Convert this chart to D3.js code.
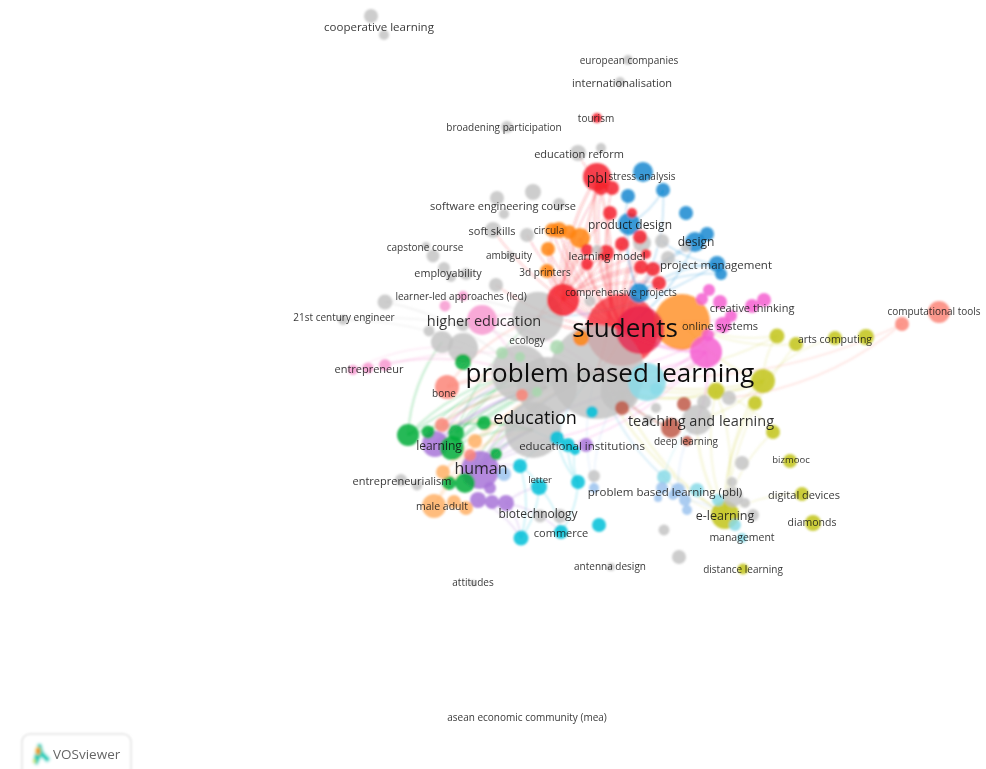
<!DOCTYPE html>
<html>
<head>
<meta charset="utf-8">
<script src="https://cdn.jsdelivr.net/npm/d3@7"></script>
<style>
html, body { margin: 0; padding: 0; background: #fff; overflow: hidden; }
svg { display: block; }
text { font-family: "Open Sans", sans-serif; }
</style>
</head>
<body>
<script>
var width = 986;
var height = 769;

// keyword nodes per cluster: [map x, map y, occurrence weight]
var gray = [
  [597,372,2209],[520,373,800],[547,387,900],[620,392,380],[533,430,780],[538,317,640],[697,420,225],
  [463,348,225],[442,342,121],[429,331,30],[463,325,36],[371,16,49],[384,35,25],[628,60,25],[620,82,25],
  [507,127,36],[578,153,64],[601,148,25],[533,192,64],[497,198,49],[504,214,25],[559,204,36],[493,230,64],
  [527,235,49],[426,246,16],[433,256,42],[510,255,16],[444,268,36],[451,277,25],[466,274,36],[496,285,49],
  [385,302,56],[343,320,25],[662,241,49],[642,243,81],[668,258,49],[686,247,25],[590,301,30],[597,250,25],
  [729,398,49],[704,402,49],[656,408,25],[648,420,25],[742,463,49],[732,482,25],[733,497,100],[745,503,25],
  [753,515,36],[664,530,30],[679,557,49],[611,567,16],[594,476,36],[473,583,9],[401,480,36],[417,485,30],
  [540,516,42],[560,516,49]
];
var red = [
  [622,330,1296],[563,300,256],[597,177,196],[601,188,49],[612,188,49],[610,213,49],[632,213,25],[622,244,49],
  [606,253,64],[587,250,36],[587,264,36],[646,254,25],[641,267,49],[653,269,49],[659,283,49],[597,118,25],
  [640,237,49]
];
var crimson = [[640,330,576]];
var blue = [
  [643,172,100],[663,190,49],[628,196,49],[686,213,49],[629,224,121],[695,242,100],[707,234,49],[717,264,64],
  [721,274,36],[639,293,100]
];
var orange = [
  [682,322,784],[552,230,49],[559,230,64],[569,232,49],[580,238,100],[548,249,49],[547,271,49],[581,338,64]
];
var green = [
  [408,435,121],[428,432,42],[456,433,64],[452,448,144],[463,362,64],[484,423,49],[496,454,36],[449,483,49],
  [465,483,100]
];
var paleGreen = [[557,347,49],[502,353,36],[520,357,25],[537,392,25]];
var purple = [
  [435,444,169],[480,470,361],[490,488,36],[478,500,64],[492,502,49],[506,503,64],[586,445,49]
];
var cyan = [
  [520,466,49],[539,487,64],[578,482,49],[521,538,56],[561,532,49],[599,525,49],[557,438,49],[568,445,49],
  [575,450,25],[592,412,36]
];
var paleCyan = [
  [647,382,361],[664,477,49],[697,490,49],[718,500,36],[735,525,36],[742,538,25],[656,389,36]
];
var lightBlue = [
  [662,488,36],[658,498,16],[678,490,49],[685,500,36],[687,510,25],[673,495,25],[594,488,25],[504,474,49]
];
var pink = [
  [482,320,225],[445,306,30],[463,296,25],[353,370,25],[368,368,30],[385,365,36]
];
var magenta = [
  [706,352,256],[702,299,36],[752,306,49],[764,300,49],[723,325,64],[731,316,36],[708,335,36],[709,290,36],
  [720,302,49]
];
var yellow = [
  [725,515,196],[763,381,144],[716,391,72],[755,403,49],[773,432,49],[790,461,49],[802,494,49],[813,523,64],
  [743,569,30],[777,336,56],[796,344,49],[835,338,49],[866,337,64]
];
var salmon = [[447,387,144],[442,425,49],[470,455,36],[522,395,36],[902,324,49],[939,312,121]];
var brown = [[684,404,49],[622,408,49],[671,428,100],[687,441,25]];
var peach = [[434,506,144],[454,502,49],[466,508,49],[443,472,49],[475,441,49]];

var clusterNames = ["gray","red","crimson","blue","orange","green","paleGreen","purple","cyan","paleCyan","lightBlue","pink","magenta","yellow","salmon","brown","peach"];
var clusterRows = [gray,red,crimson,blue,orange,green,paleGreen,purple,cyan,paleCyan,lightBlue,pink,magenta,yellow,salmon,brown,peach];
var clusterColors = ["#c2c2c2","#f5222d","#e81f4a","#1488d0","#ff8412","#00ad3a","#a8d8ae","#a874d8","#00bfd8","#8adbe8","#9cc3ee","#f79ad0","#f45fd0","#c2c41a","#fb8578","#c05a48","#ffb066"];

// link fans: source cluster, source index, target cluster, target indexes
var linkFans = [
  ["red",0,"red",[1,2,3,4,5,6,7,8,9,10,11,12,13,14,16]],
  ["red",1,"red",[2,3,5,7,8,9,10,11,12,13,14]],
  ["red",2,"gray",[0,5,16]],
  ["red",0,"orange",[1,2,3,4,5,6]],
  ["red",1,"orange",[1,3,4,5,6]],
  ["red",0,"gray",[0,5,22,23,30,34,35]],
  ["red",8,"gray",[0,5]],
  ["blue",9,"blue",[2,4,5,7,8]],
  ["blue",1,"blue",[4,9]],
  ["blue",7,"gray",[5,33,35]],
  ["blue",5,"red",[0,12]],
  ["green",3,"gray",[0,1,2,4]],
  ["green",0,"gray",[0,1,4,8]],
  ["green",2,"gray",[0,1,2,5]],
  ["green",1,"gray",[1,2,4]],
  ["green",8,"gray",[0,2,4]],
  ["salmon",0,"gray",[0,2,5]],
  ["salmon",1,"gray",[0,1,2,4]],
  ["purple",1,"gray",[0,2,3,4]],
  ["purple",0,"gray",[0,1,2]],
  ["purple",1,"cyan",[6,7,0]],
  ["purple",5,"cyan",[3,4,1]],
  ["purple",3,"cyan",[3]],
  ["peach",0,"gray",[0,2]],
  ["peach",3,"gray",[0,4]],
  ["pink",3,"gray",[1,7]],
  ["pink",5,"gray",[1,0]],
  ["pink",0,"gray",[0,1,5]],
  ["gray",32,"gray",[0,1]],
  ["gray",31,"gray",[5,1]],
  ["magenta",0,"gray",[0,3,6]],
  ["magenta",0,"red",[0,1]],
  ["magenta",0,"cyan",[6,7]],
  ["magenta",2,"orange",[0]],
  ["magenta",4,"gray",[0,3]],
  ["yellow",1,"gray",[0,3,6]],
  ["yellow",1,"yellow",[2,9,11,3]],
  ["yellow",1,"orange",[0]],
  ["yellow",2,"gray",[0,3]],
  ["yellow",2,"yellow",[0,4]],
  ["yellow",0,"yellow",[1,2,3,4,6,10]],
  ["yellow",0,"gray",[0,6,3]],
  ["yellow",0,"paleCyan",[1]],
  ["yellow",9,"orange",[0]],
  ["yellow",10,"orange",[0]],
  ["yellow",9,"gray",[0]],
  ["salmon",4,"gray",[39,0]],
  ["brown",2,"gray",[0,3]],
  ["cyan",0,"cyan",[1,3,6]],
  ["cyan",1,"cyan",[3,4]],
  ["cyan",2,"cyan",[6,7,8,4]],
  ["cyan",6,"gray",[0,4]],
  ["paleCyan",1,"gray",[0,6]],
  ["lightBlue",2,"gray",[0,6]],
  ["lightBlue",3,"yellow",[0]],
  ["lightBlue",6,"gray",[0,3]]
];

// labels: text, map x, map y, font size
var labelText = ["problem based learning","students","education","higher education","teaching and learning","human","learning","pbl","product design","design","e-learning","project management","problem based learning (pbl)","educational institutions","biotechnology","online systems","arts computing","creative thinking","computational tools","learning model","soft skills","software engineering course","education reform","cooperative learning","european companies","internationalisation","tourism","broadening participation","stress analysis","circula","capstone course","ambiguity","employability","3d printers","comprehensive projects","learner-led approaches (led)","21st century engineer","ecology","entrepreneur","bone","entrepreneurialism","male adult","letter","commerce","deep learning","bizmooc","digital devices","diamonds","management","distance learning","antenna design","attitudes","asean economic community (mea)"];
var labelX = [610,625,535,484,701,481,439,597,630,696,725,716,665,582,538,720,835,752,934,607,492,503,579,379,629,622,596,504,642,549,425,509,448,545,621,461,344,527,369,444,402,442,540,561,686,791,804,812,742,743,610,473,527];
var labelY = [372,327,417,320,420,468,445,177,224,241,515,264,491,445,513,325,339,307,311,255,230,205,153,26,60,82,118,127,176,230,247,255,272,272,292,296,317,340,368,393,480,506,479,532,441,459,494,522,537,569,566,582,717];
var labelSize = [26,26,18,14.5,14.5,16,12,14,12,12,12.5,11.5,11.5,11.5,12,11,10.5,11,10,11,11,11,11,11.5,10,11,10,10,10,10,10,10,10.8,10,10,10,10,10,11,10,11,10.5,9.5,11,10,9.5,11,10.5,10.5,10,10,10,10];
var labelColor = "#111111";

var xScale = d3.scaleLinear().domain([0, 986]).range([0, width]);
var yScale = d3.scaleLinear().domain([0, 769]).range([0, height]);
var rScale = d3.scaleSqrt().domain([0, 2500]).range([0, 50]);
var color = d3.scaleOrdinal().domain(clusterNames).range(clusterColors);

var nodes = [];
var lookup = {};
clusterNames.forEach(function(name, c) {
  clusterRows[c].forEach(function(row, i) {
    var n = {cluster: name, x: row[0], y: row[1], w: row[2]};
    nodes.push(n);
    lookup[name + ":" + i] = n;
  });
});

var links = [];
linkFans.forEach(function(f) {
  f[3].forEach(function(t) {
    links.push({a: lookup[f[0] + ":" + f[1]], b: lookup[f[2] + ":" + t]});
  });
});

var svg = d3.select("body").append("svg")
  .attr("width", width)
  .attr("height", height);

var defs = svg.append("defs");
defs.append("filter").attr("id", "soft")
  .attr("x", "-5%").attr("y", "-5%").attr("width", "110%").attr("height", "110%")
  .append("feGaussianBlur").attr("stdDeviation", 0.8);
defs.append("filter").attr("id", "softText")
  .attr("x", "-5%").attr("y", "-5%").attr("width", "110%").attr("height", "110%")
  .append("feGaussianBlur").attr("stdDeviation", 0.4);
defs.append("filter").attr("id", "softer")
  .append("feGaussianBlur").attr("stdDeviation", 0.9);

var map = svg.append("g").attr("filter", "url(#soft)");

map.append("g").selectAll("path")
  .data(links)
  .enter()
  .append("path")
  .attr("fill", "none")
  .attr("stroke", function(d) { return color(d.a.cluster); })
  .attr("stroke-opacity", function(d) { return d.a.cluster === "yellow" ? 0.13 : 0.2; })
  .attr("stroke-width", function(d) { return Math.min(3, 0.8 + Math.sqrt(Math.min(d.a.w, d.b.w)) / 7); })
  .attr("d", function(d) {
    var x0 = xScale(d.a.x), y0 = yScale(d.a.y), x1 = xScale(d.b.x), y1 = yScale(d.b.y);
    // bend each link sideways like the arcs of the map
    var mx = (x0 + x1) / 2 + (y1 - y0) * 0.15;
    var my = (y0 + y1) / 2 - (x1 - x0) * 0.15;
    return "M" + x0 + "," + y0 + "Q" + mx + "," + my + " " + x1 + "," + y1;
  });

// students goes under the big grey nodes, the rest big to small
var first = lookup["red:0"];
var ordered = nodes.filter(function(n) { return n !== first; })
  .sort(function(p, q) { return q.w - p.w; });
ordered.unshift(first);

map.append("g").selectAll("circle")
  .data(ordered)
  .enter()
  .append("circle")
  .attr("cx", function(d) { return xScale(d.x); })
  .attr("cy", function(d) { return yScale(d.y); })
  .attr("r", function(d) { return rScale(d.w); })
  .style("fill", function(d) { return color(d.cluster); })
  .style("fill-opacity", function(d) {
    if (d.cluster === "gray") return 0.82;
    return d.w > 500 ? 0.75 : 0.85;
  });

svg.append("g").attr("filter", "url(#softText)").selectAll("text")
  .data(labelText)
  .enter()
  .append("text")
  .attr("x", function(d, i) { return xScale(labelX[i]); })
  .attr("y", function(d, i) { return yScale(labelY[i]); })
  .attr("text-anchor", "middle")
  .attr("dominant-baseline", "central")
  .attr("font-size", function(d, i) { return labelSize[i]; })
  .attr("fill", labelColor)
  .attr("fill-opacity", function(d, i) { return labelSize[i] > 17 ? 1 : 0.85; })
  .text(function(d) { return d; });

// VOSviewer badge
var badge = svg.append("g").attr("filter", "url(#soft)");
badge.append("rect")
  .attr("x", 22).attr("y", 734).attr("width", 109).attr("height", 50).attr("rx", 8)
  .attr("fill", "#fff").attr("stroke", "#e2e2e2").attr("stroke-width", 1.5);
var logo = badge.append("g").attr("filter", "url(#softer)");
logo.append("path").attr("d", "M38,744 L33,762 L37,765 L41,756 L47,762 L50,759 L43,752 L41,744 Z").attr("fill", "#19c8b4");
logo.append("ellipse").attr("cx", 38).attr("cy", 751).attr("rx", 2.5).attr("ry", 4).attr("fill", "#f6c81c");
logo.append("ellipse").attr("cx", 38).attr("cy", 751).attr("rx", 1.2).attr("ry", 2.5).attr("fill", "#e8301c");
logo.append("ellipse").attr("cx", 34.5).attr("cy", 761).attr("rx", 1.5).attr("ry", 2).attr("fill", "#d8e83c");
svg.append("text")
  .attr("x", 53).attr("y", 759)
  .attr("font-size", 13.5).attr("fill", "#666")
  .attr("filter", "url(#softText)")
  .text("VOSviewer");
</script>
</body>
</html>
